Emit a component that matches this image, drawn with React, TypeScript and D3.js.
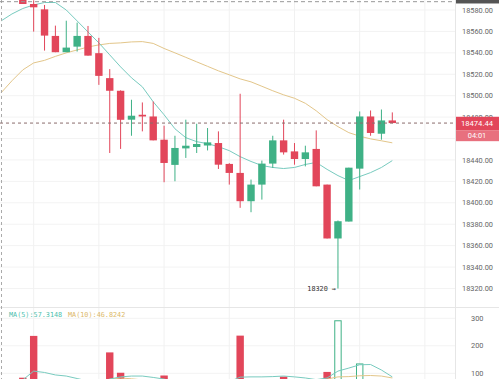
import React from "react";
import * as d3 from "d3";

const opens = [18589.5,18585.6,18580.6,18555.8,18540.6,18545.8,18555.8,18539.7,18516.4,18504.6,18477.6,18482.2,18480.6,18458.9,18435.4,18450.8,18452.1,18453.5,18455.8,18436.3,18427.9,18401.5,18417,18436.6,18458.3,18448,18440.9,18450.3,18417,18366.7,18382.5,18431.9,18480.6,18464.5,18476.9];
const highs = [18589.82,18589,18584.7,18565.4,18570,18568.2,18565.1,18554,18524.8,18505,18496.2,18493.7,18494.6,18472,18462.6,18477.6,18473.8,18469.8,18466.7,18437,18501.8,18421.7,18439.4,18462.6,18477.6,18455.8,18453.3,18467.6,18417,18383.5,18432.8,18485.3,18486.2,18487.1,18484.4];
const lows = [18585.6,18559.8,18542.1,18540.6,18540.6,18541.2,18537.4,18510.1,18446.5,18450.3,18462.6,18466.7,18458.3,18419.2,18420.1,18441.9,18446.5,18448.9,18431.6,18417,18395.3,18391.2,18403,18432.6,18445,18435.6,18434,18415.4,18366.7,18320,18382.5,18412.4,18462.6,18458.9,18474.2];
const closes = [18585.6,18582.5,18556.1,18540.6,18544.9,18555.8,18537.4,18518.5,18504.6,18477.5,18481.3,18480.6,18458.3,18437.2,18451.2,18453.3,18454.9,18456.4,18435.6,18427.9,18401.5,18417,18436.6,18458.3,18447.1,18440.9,18447.1,18415.4,18366.7,18382.8,18432.8,18480.6,18465.2,18476.9,18474.44];
const volumes = [84,236,60,55,40,45,50,60,176,102,50,45,60,92,55,40,35,40,55,50,237,60,55,50,88,50,45,70,105,291,70,134,60,55,20];
// price MAs start at index -2
const ma10 = [18569.8,18576.3,18581.4,18584.7,18587,18587,18580,18569.8,18559.5,18549.3,18538.1,18526.9,18516.7,18508.3,18494.3,18482.2,18469.1,18460.8,18457.1,18455.2,18452.4,18448.7,18443.1,18438.6,18434.8,18433,18432,18433,18435.8,18437.7,18431.2,18425.4,18420.8,18424.5,18428.2,18433,18439.4];
const ma30 = [18502.7,18513.9,18524.1,18530.6,18533,18536.7,18540,18542.7,18545.5,18547.4,18548.8,18549.3,18550.2,18550.5,18548.8,18544.1,18540,18535.8,18531.6,18527.4,18523.2,18519.5,18515.7,18512.9,18508.8,18504.6,18500.8,18497.6,18492.9,18485.9,18477.6,18471.1,18465.5,18462.2,18459.7,18457.9,18456];
const volMa5 = [76,108,103,94,90,81,72,65,79,87,90,90,85,79,70,65,62,60,62,70,86,87,87,88,90,87,83,77,83,108,119,131,132,112,87];
const volMa10 = [60,62,65,66,68,70,72,75,78,83,80,76,74,72,70,68,66,65,64,66,70,72,74,74,75,74,73,72,79,87,88,91,92,90,83];
const priceTicks = [18580,18560,18540,18520,18500,18480,18460,18440,18420,18400,18380,18360,18340,18320];
const volTicks = [300,200,100];
const gridIdx = [1,7,13,19,25,31,37];
const lastPrice = 18474.44;
const lastLabel = "18474.44";
const timerLabel = "04:01";
const highPrice = 18589.82;
const highLabel = "18589.82";
const lowPrice = 18320;
const lowLabel = "18320 →";
const legend5 = "MA(5):57.3148";
const legend10 = "MA(10):46.8242";

const RED = "#e2465a";
const GREEN = "#3fb186";
const TEAL = "#78cbbf";
const TAN = "#e3c68a";
const PR = 455;

export default function App() {
  const x = d3.scaleLinear().domain([0, 34]).range([22.8, 392.3]);
  const y = d3.scaleLinear().domain([18320, 18580]).range([288.5, 10]);
  const vy = d3.scaleLinear().domain([0, 300]).range([400.8, 318.3]);
  const bw = 7.4;
  const line = d3.line<number>().x((_, i) => x(i - 2)).y((d) => y(d));
  const vline = d3.line<number>().x((_, i) => x(i)).y((d) => vy(d));
  const axisFont = "Roboto, 'Open Sans', sans-serif";
  return (
    <svg width={499} height={379} style={{ position: "fixed", left: 0, top: 0, background: "#fff" }}>
      <defs>
        <clipPath id="pc"><rect x={0} y={0} width={PR} height={306} /></clipPath>
        <clipPath id="vc"><rect x={0} y={308} width={PR} height={71} /></clipPath>
      </defs>
      {/* grid */}
      {priceTicks.map((t) => (
        <line key={"g" + t} x1={0} x2={PR} y1={y(t)} y2={y(t)} stroke="#f3f3f3" />
      ))}
      {volTicks.map((t) => (
        <line key={"vg" + t} x1={0} x2={PR} y1={vy(t)} y2={vy(t)} stroke="#f3f3f3" />
      ))}
      {gridIdx.map((i) => (
        <line key={"vx" + i} x1={x(i)} x2={x(i)} y1={0} y2={379} stroke="#f1f1f1" />
      ))}
      <line x1={0} x2={499} y1={307.5} y2={307.5} stroke="#e6e6e6" />
      <line x1={PR + 0.5} x2={PR + 0.5} y1={0} y2={379} stroke="#e6e6e6" />
      {/* MAs */}
      <g clipPath="url(#pc)">
        <path d={line(ma30) || ""} fill="none" stroke={TAN} strokeWidth={1} />
        <path d={line(ma10) || ""} fill="none" stroke={TEAL} strokeWidth={1} />
        {opens.map((o, i) => {
          const c = closes[i];
          const up = c >= o;
          const col = up ? GREEN : RED;
          const top = y(Math.max(o, c));
          const bot = y(Math.min(o, c));
          return (
            <g key={i}>
              <line x1={x(i)} x2={x(i)} y1={y(highs[i])} y2={y(lows[i])} stroke={col} strokeWidth={1} />
              <rect x={x(i) - bw / 2} y={top} width={bw} height={Math.max(1.5, bot - top)} fill={col} />
            </g>
          );
        })}
      </g>
      {/* volume */}
      <g clipPath="url(#vc)">
        {volumes.map((v, i) => {
          const up = closes[i] >= opens[i];
          return up ? (
            <rect key={i} x={x(i) - bw / 2 + 0.5} y={vy(v)} width={bw - 1} height={vy(0) - vy(v)} fill="#fff" stroke={GREEN} strokeWidth={1} />
          ) : (
            <rect key={i} x={x(i) - bw / 2} y={vy(v)} width={bw} height={vy(0) - vy(v)} fill={RED} />
          );
        })}
        <path d={vline(volMa10) || ""} fill="none" stroke={TAN} strokeWidth={1} />
        <path d={vline(volMa5) || ""} fill="none" stroke={TEAL} strokeWidth={1} />
      </g>
      {/* dashed lines */}
      <line x1={1.5} x2={1.5} y1={0} y2={379} stroke="#aaa" strokeDasharray="3,3" />
      <line x1={0} x2={PR} y1={y(highPrice) + 2.2} y2={y(highPrice) + 2.2} stroke="#999" strokeDasharray="4,3" />
      <line x1={0} x2={PR} y1={y(lastPrice)} y2={y(lastPrice)} stroke="#8a6c6c" strokeDasharray="3,3" />
      {/* axis labels */}
      {priceTicks.map((t) => (
        <text key={"t" + t} x={462} y={y(t)} dy="0.35em" fontSize={7.4} fill="#666" fontFamily={axisFont}>
          {t.toFixed(2)}
        </text>
      ))}
      {volTicks.map((t) => (
        <text key={"vt" + t} x={471} y={vy(t)} dy="0.35em" fontSize={7.4} fill="#666" fontFamily={axisFont}>
          {t}
        </text>
      ))}
      {/* price labels */}
      <rect x={PR + 1} y={y(lastPrice) - 6.3} width={44} height={13.4} fill={RED} />
      <text x={477} y={y(lastPrice)} dy="0.35em" fontSize={7.6} fill="#fff" textAnchor="middle" fontFamily={axisFont}>{lastLabel}</text>
      <rect x={PR + 1} y={y(lastPrice) + 7.1} width={44} height={11} fill="#e8707e" />
      <text x={477} y={y(lastPrice) + 12.6} dy="0.35em" fontSize={7.4} fill="#fff" textAnchor="middle" fontFamily={axisFont}>{timerLabel}</text>
      <rect x={PR + 1} y={y(highPrice) - 9} width={44} height={13} fill="#555" />
      <text x={477} y={y(highPrice) - 2.5} dy="0.35em" fontSize={7.4} fill="#fff" textAnchor="middle" fontFamily={axisFont}>{highLabel}</text>
      <text x={x(29) - 2} y={y(lowPrice)} dy="0.35em" fontSize={6.8} fill="#333" textAnchor="end" fontFamily="'DejaVu Sans Mono', monospace">{lowLabel}</text>
      {/* legend */}
      <text x={9} y={314.5} dy="0.35em" fontSize={6.8} fill="#4fbfae" fontFamily="'DejaVu Sans Mono', monospace">{legend5}</text>
      <text x={68} y={314.5} dy="0.35em" fontSize={6.8} fill="#dcb96a" fontFamily="'DejaVu Sans Mono', monospace">{legend10}</text>
    </svg>
  );
}
